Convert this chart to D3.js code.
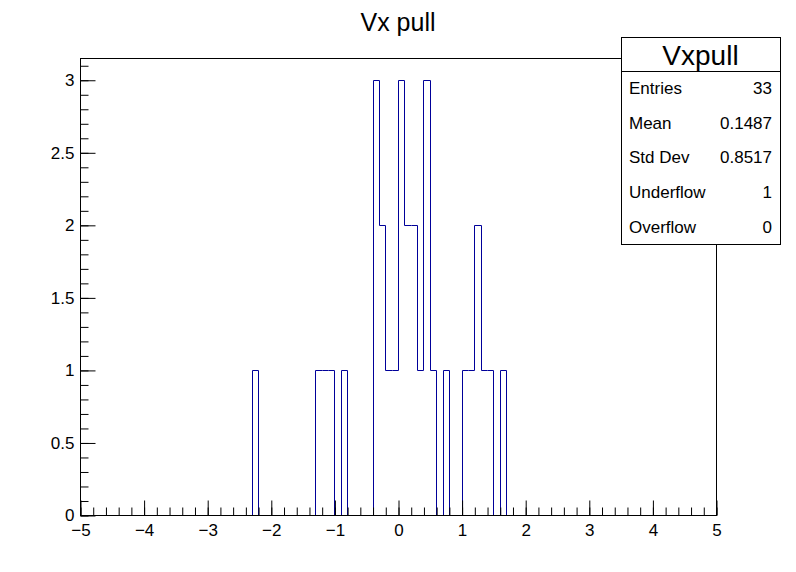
<!DOCTYPE html>
<html>
<head>
<meta charset="utf-8">
<script src="https://cdn.jsdelivr.net/npm/d3@7"></script>
<style>
  body { margin: 0; background: #fff; }
  svg { font-family: "Liberation Sans", Arial, sans-serif; }
</style>
</head>
<body>
<div id="container"></div>
<script>
/* DATA */
const xRange = [-5, 5];
const nBins = 100;
// lower edges of the non-empty bins and their contents
const binLow = [-2.3, -1.3, -1.2, -1.1, -0.9, -0.4, -0.3, -0.2, -0.1, 0.0, 0.1, 0.2, 0.3, 0.4, 0.5, 0.7, 1.0, 1.1, 1.2, 1.3, 1.4, 1.6];
const binCount = [1, 1, 1, 1, 1, 3, 2, 1, 1, 3, 2, 2, 1, 3, 1, 1, 1, 1, 2, 1, 1, 1];
const xTickLabels = [-5, -4, -3, -2, -1, 0, 1, 2, 3, 4, 5];
const yTickLabels = [0, 0.5, 1, 1.5, 2, 2.5, 3];
const yMax = 3.15;
const statLabels = ["Entries", "Mean", "Std Dev", "Underflow", "Overflow"];
const statValues = ["33", "0.1487", "0.8517", "1", "0"];

/* CONSTANTS */
const width = 796;
const height = 572;
const frame = { left: 80, right: 716, top: 58, bottom: 515 };
const lineColor = "#000099";
const binWidth = (xRange[1] - xRange[0]) / nBins;

const svg = d3.select("#container")
  .append("svg")
  .attr("width", width)
  .attr("height", height);

/* SCALES */
const xScale = d3.scaleLinear().domain(xRange).range([frame.left, frame.right]);
const yScale = d3.scaleLinear().domain([0, yMax]).range([frame.bottom, frame.top]);

// full list of bin contents (empty bins are 0)
const contents = new Array(nBins).fill(0);
binLow.forEach((lo, i) => {
  contents[Math.round((lo - xRange[0]) / binWidth)] = binCount[i];
});

/* HISTOGRAM OUTLINE (step line like ROOT) */
const pts = [[xScale(xRange[0]), yScale(0)]];
contents.forEach((c, i) => {
  const lo = xRange[0] + i * binWidth;
  pts.push([xScale(lo), yScale(c)]);
  pts.push([xScale(lo + binWidth), yScale(c)]);
});
pts.push([xScale(xRange[1]), yScale(0)]);

svg.append("path")
  .attr("d", d3.line()(pts.map(p => [Math.round(p[0]) + 0.5, Math.round(p[1]) + 0.5])))
  .attr("fill", "none")
  .attr("stroke", lineColor)
  .attr("stroke-width", 1);

/* FRAME */
svg.append("rect")
  .attr("x", frame.left + 0.5)
  .attr("y", frame.top + 0.5)
  .attr("width", frame.right - frame.left)
  .attr("height", frame.bottom - frame.top)
  .attr("fill", "none")
  .attr("stroke", "#000");

/* AXES - ticks point inside like ROOT */
const xMinor = d3.range(-50, 51, 2).map(d => d / 10);
svg.append("g")
  .attr("transform", `translate(0.5, ${frame.bottom + 0.5})`)
  .call(d3.axisBottom(xScale).tickValues(xMinor).tickSize(-8).tickFormat(""))
  .call(g => g.select(".domain").remove());

const xAxis = svg.append("g")
  .attr("transform", `translate(0.5, ${frame.bottom + 0.5})`)
  .call(d3.axisBottom(xScale).tickValues(xTickLabels).tickSizeInner(-15).tickSizeOuter(0).tickPadding(8));
xAxis.select(".domain").remove();
xAxis.selectAll("text").attr("font-size", 17).attr("font-family", "Liberation Sans, Arial, sans-serif").attr("fill", "#000");

const yMinor = d3.range(0, 32).map(d => d / 10);
svg.append("g")
  .attr("transform", `translate(${frame.left + 0.5}, 0.5)`)
  .call(d3.axisLeft(yScale).tickValues(yMinor).tickSize(-8).tickFormat(""))
  .call(g => g.select(".domain").remove());

const yAxis = svg.append("g")
  .attr("transform", `translate(${frame.left + 0.5}, 0.5)`)
  .call(d3.axisLeft(yScale).tickValues(yTickLabels).tickSizeInner(-15).tickSizeOuter(0).tickPadding(6).tickFormat(d3.format("~g")));
yAxis.select(".domain").remove();
yAxis.selectAll("text").attr("font-size", 17).attr("font-family", "Liberation Sans, Arial, sans-serif").attr("fill", "#000");

/* TITLE */
svg.append("text")
  .attr("x", width / 2)
  .attr("y", 31)
  .attr("text-anchor", "middle")
  .attr("font-size", 25)
  .text("Vx pull");

/* STATS BOX */
const box = { x: 621, y: 37, w: 159, h: 207, head: 34 };
const stats = svg.append("g");
stats.append("rect")
  .attr("x", box.x + 0.5).attr("y", box.y + 0.5)
  .attr("width", box.w).attr("height", box.h)
  .attr("fill", "#fff").attr("stroke", "#000");
stats.append("line")
  .attr("x1", box.x).attr("x2", box.x + box.w)
  .attr("y1", box.y + box.head + 0.5).attr("y2", box.y + box.head + 0.5)
  .attr("stroke", "#000");
stats.append("text")
  .attr("x", box.x + box.w / 2)
  .attr("y", box.y + box.head / 2 + 1)
  .attr("dy", "0.35em")
  .attr("text-anchor", "middle")
  .attr("font-size", 28)
  .text("Vxpull");

const rowH = (box.h - box.head) / statLabels.length;
statLabels.forEach((lab, i) => {
  const cy = box.y + box.head + rowH * (i + 0.5);
  stats.append("text")
    .attr("x", box.x + 8).attr("y", cy).attr("dy", "0.35em")
    .attr("font-size", 17)
    .text(lab);
  stats.append("text")
    .attr("x", box.x + box.w - 8).attr("y", cy).attr("dy", "0.35em")
    .attr("text-anchor", "end")
    .attr("font-size", 17)
    .text(statValues[i]);
});
</script>
</body>
</html>
